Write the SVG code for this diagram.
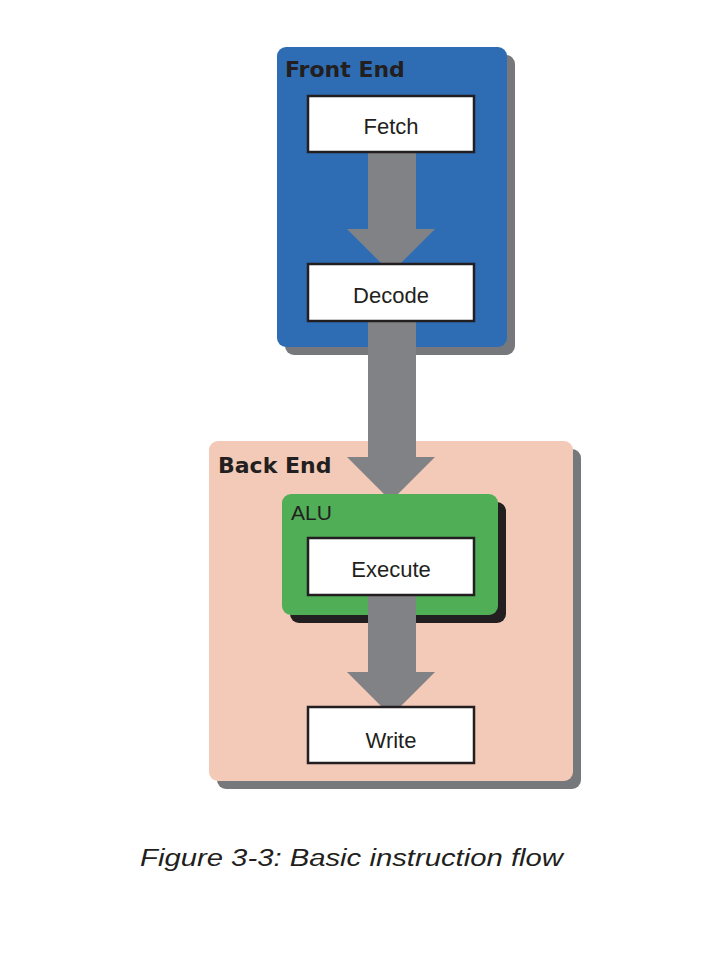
<svg xmlns="http://www.w3.org/2000/svg" width="716" height="960" viewBox="0 0 716 960">
<style>
.shadow{fill:#77787b}
.dshadow{fill:#231f20}
.box{fill:#ffffff;stroke:#231f20;stroke-width:2.5}
.lbl{font-family:"Liberation Sans",Arial,sans-serif;font-size:22px;fill:#231f20;text-anchor:middle}
.title{font-family:"DejaVu Sans",sans-serif;font-weight:bold;font-size:22px;fill:#231f20}
.arrow{fill:#808285}
</style>
<rect width="716" height="960" fill="#ffffff"/>
<g id="front-end">
<rect class="shadow" x="285" y="55" width="230" height="300" rx="9"/>
<rect x="277" y="47" width="230" height="300" rx="9" fill="#2e6db4"/>
<text class="title" x="285" y="77">Front End</text>
</g>
<g id="back-end">
<rect class="shadow" x="217" y="449" width="364" height="340" rx="9"/>
<rect x="209" y="441" width="364" height="340" rx="9" fill="#f3c9b7"/>
<text class="title" x="218" y="473">Back End</text>
</g>
<g id="alu">
<rect class="dshadow" x="290" y="502" width="216" height="121" rx="9"/>
<rect x="282" y="494" width="216" height="121" rx="9" fill="#4fae56"/>
<text x="291" y="520" style="font-family:'Liberation Sans',Arial,sans-serif;font-size:21px;fill:#231f20">ALU</text>
</g>
<g id="connectors">
<polygon class="arrow" points="368,152 416,152 416,229 435,229 391,273 347,229 368,229"/>
<polygon class="arrow" points="368,321 416,321 416,457 435,457 398,494 384,494 347,457 368,457"/>
<polygon class="arrow" points="368,595 416,595 416,672 435,672 391,716 347,672 368,672"/>
</g>
<g id="fetch">
<rect class="box" x="308" y="96" width="166" height="56"/>
<text class="lbl" x="391" y="134">Fetch</text>
</g>
<g id="decode">
<rect class="box" x="308" y="264" width="166" height="57"/>
<text class="lbl" x="391" y="303">Decode</text>
</g>
<g id="execute">
<rect class="box" x="308" y="538" width="166" height="57"/>
<text class="lbl" x="391" y="577">Execute</text>
</g>
<g id="write">
<rect class="box" x="308" y="707" width="166" height="56"/>
<text class="lbl" x="391" y="748">Write</text>
</g>
<text x="140" y="866" textLength="423" lengthAdjust="spacingAndGlyphs" style="font-family:'Liberation Sans',Arial,sans-serif;font-style:italic;font-size:23px;fill:#231f20">Figure 3-3: Basic instruction flow</text>
</svg>
